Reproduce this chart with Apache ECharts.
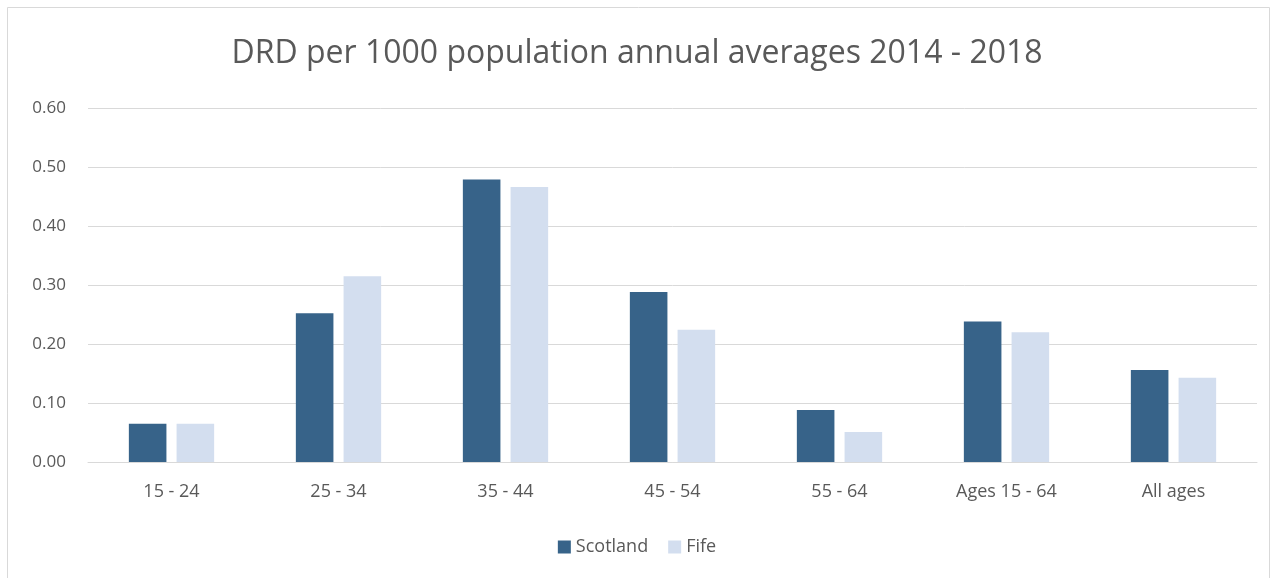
<!DOCTYPE html>
<html>
<head>
<meta charset="utf-8">
<script src="https://cdn.jsdelivr.net/npm/echarts@6/dist/echarts.min.js"></script>
<style>
  html, body { margin: 0; padding: 0; background: #fff; }
  #chart { width: 1274px; height: 578px; }
</style>
</head>
<body>
<div id="chart"></div>
<script>
// Drug-related deaths per 1000 population, annual averages 2014 - 2018
const categories = ['15 - 24', '25 - 34', '35 - 44', '45 - 54', '55 - 64', 'Ages 15 - 64', 'All ages'];
const scotland = [0.065, 0.252, 0.479, 0.288, 0.088, 0.238, 0.156];
const fife = [0.065, 0.315, 0.466, 0.224, 0.051, 0.220, 0.143];
const yTicks = { min: 0, max: 0.6, interval: 0.1 };

const textColor = '#595959';
const fontFamily = '"Open Sans", "Liberation Sans", sans-serif';

const chart = echarts.init(document.getElementById('chart'), null, { renderer: 'canvas' });
chart.setOption({
  backgroundColor: '#ffffff',
  animation: false,
  textStyle: { fontFamily: fontFamily, color: textColor },
  title: {
    text: 'DRD per 1000 population annual averages 2014 - 2018',
    left: 'center',
    top: 33,
    textStyle: { fontFamily: fontFamily, fontSize: 32, fontWeight: 'normal', color: textColor }
  },
  graphic: [{
    type: 'rect',
    shape: { x: 7.5, y: 7.5, width: 1262, height: 575 },
    style: { fill: 'none', stroke: '#d9d9d9', lineWidth: 1 },
    silent: true
  }],
  legend: {
    bottom: 17,
    left: 'center',
    itemWidth: 13,
    itemHeight: 13,
    itemGap: 20,
    icon: 'rect',
    textStyle: { fontFamily: fontFamily, fontSize: 18, color: textColor },
    data: ['Scotland', 'Fife']
  },
  grid: { left: 88, right: 17, top: 108, bottom: 116 },
  xAxis: {
    type: 'category',
    data: categories,
    axisLine: { lineStyle: { color: '#d9d9d9', width: 1 } },
    axisTick: { show: false },
    axisLabel: { color: textColor, fontSize: 18, margin: 21, fontFamily: fontFamily }
  },
  yAxis: {
    type: 'value',
    min: yTicks.min,
    max: yTicks.max,
    interval: yTicks.interval,
    axisLine: { show: false },
    axisTick: { show: false },
    splitLine: { lineStyle: { color: '#d9d9d9', width: 1 } },
    axisLabel: {
      color: textColor, fontSize: 17, margin: 22, fontFamily: fontFamily,
      formatter: v => v.toFixed(2)
    }
  },
  series: [
    {
      name: 'Scotland',
      type: 'bar',
      data: scotland,
      barWidth: '22.5%',
      barGap: '27%',
      itemStyle: { color: '#376389' }
    },
    {
      name: 'Fife',
      type: 'bar',
      data: fife,
      barWidth: '22.5%',
      itemStyle: { color: '#d3deef' }
    }
  ]
});
</script>
</body>
</html>
